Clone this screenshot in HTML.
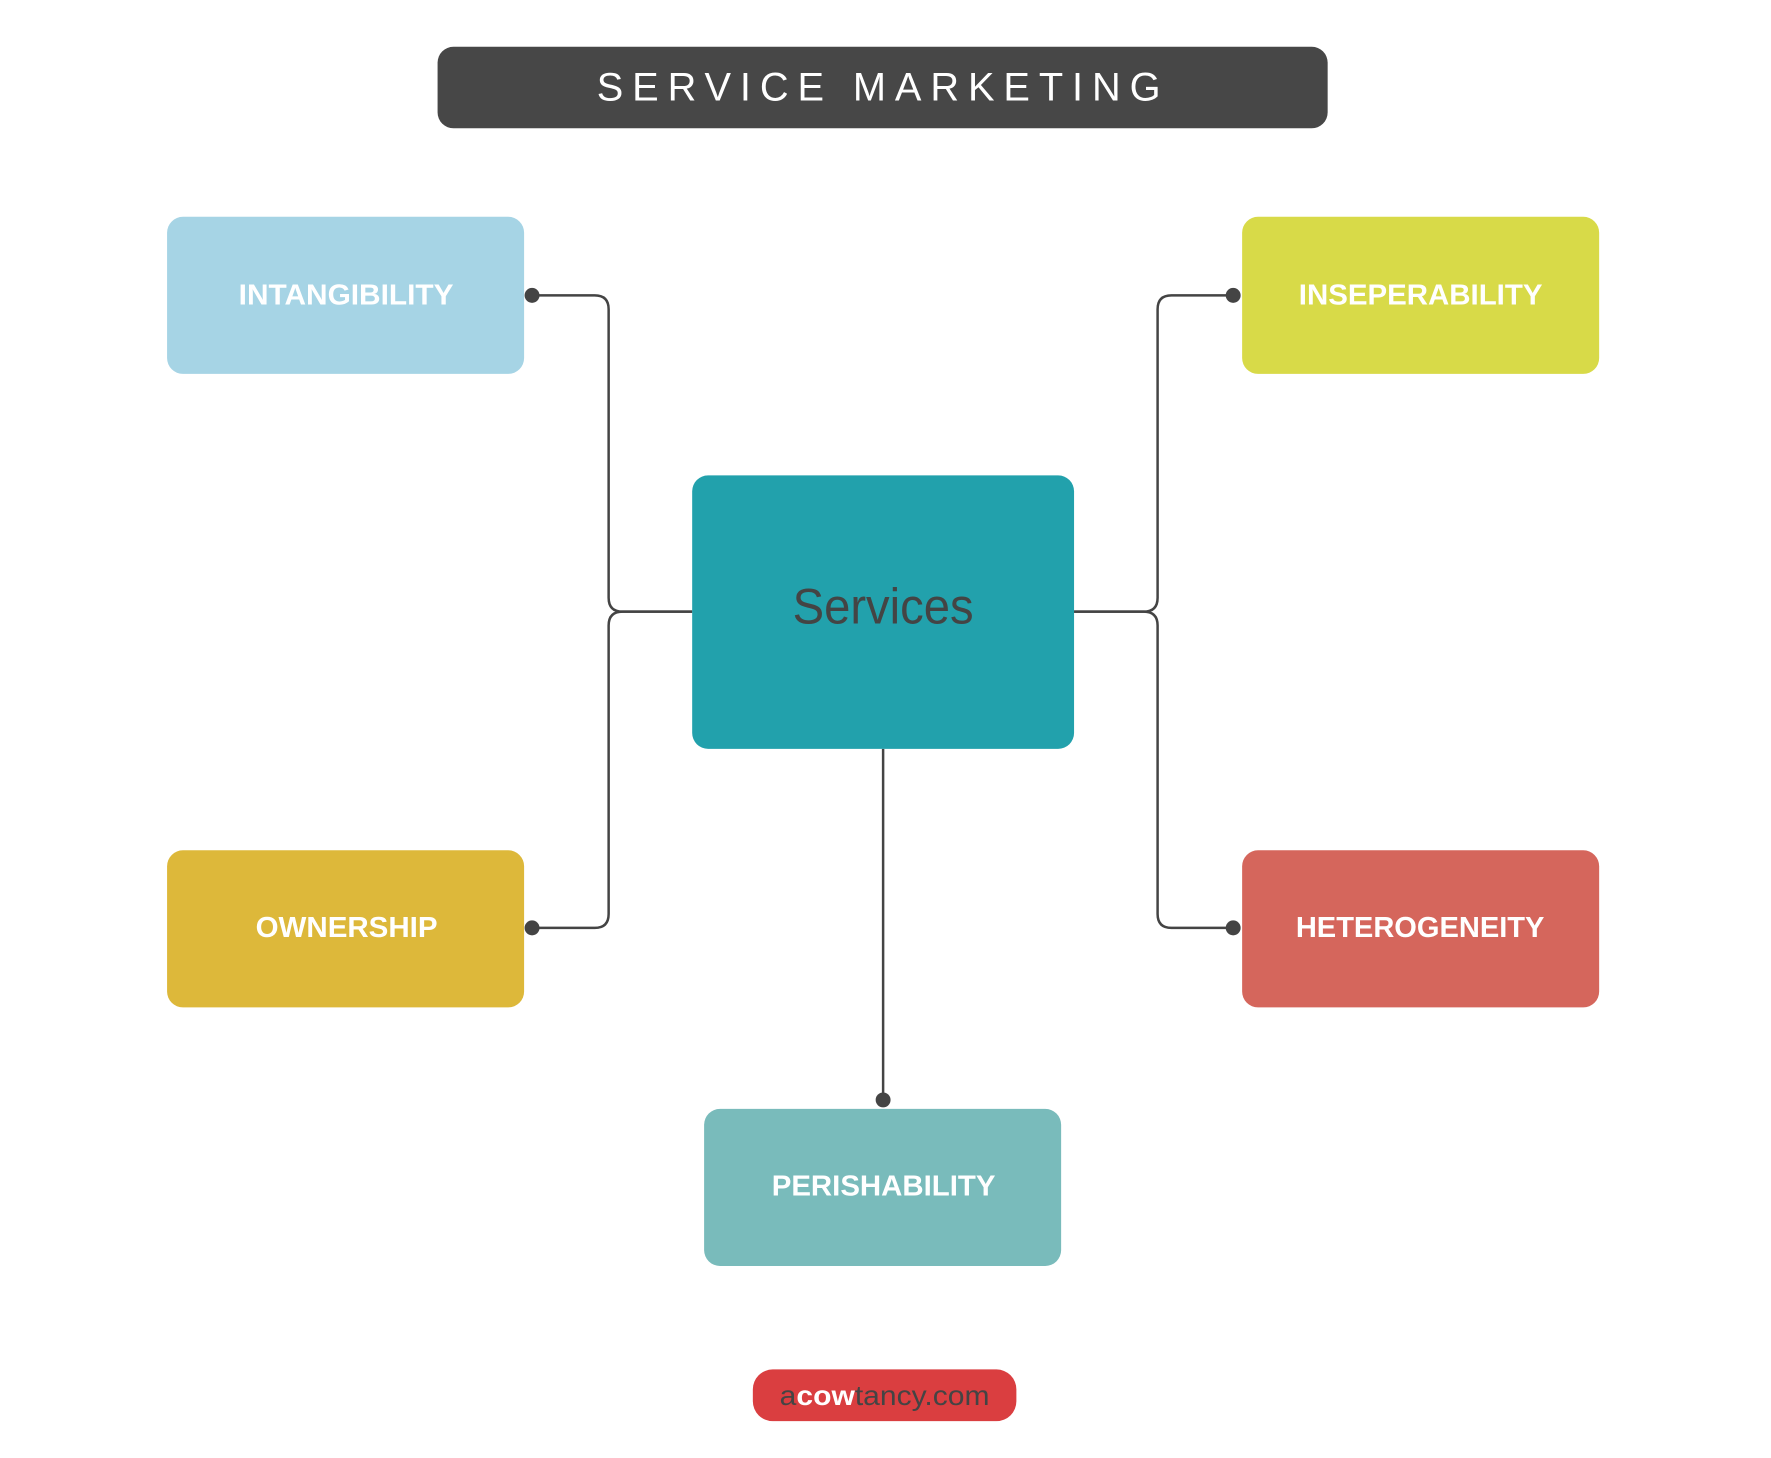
<!DOCTYPE html>
<html><head><meta charset="utf-8"><style>
html,body{margin:0;padding:0;background:#fff;}
svg{display:block;}
</style></head><body>
<svg width="1771" height="1458" viewBox="0 0 1771 1458" xmlns="http://www.w3.org/2000/svg">
<rect width="1771" height="1458" fill="#fff"/>
<g transform="scale(0.9945)">
<rect x="440" y="47" width="895" height="82" rx="16" fill="#474747"/>
<text x="600" y="101" font-family="Liberation Sans, sans-serif" font-size="40" fill="#fff" textLength="567" lengthAdjust="spacing">SERVICE MARKETING</text>

<g fill="none" stroke="#444" stroke-width="2.5">
<path d="M535 297 H598 Q612 297 612 311 V601 Q612 615 626 615 H696"/>
<path d="M696 615 H626 Q612 615 612 629 V919 Q612 933 598 933 H535"/>
<path d="M1240 297 H1178 Q1164 297 1164 311 V601 Q1164 615 1150 615 H1080"/>
<path d="M1080 615 H1150 Q1164 615 1164 629 V919 Q1164 933 1178 933 H1240"/>
<path d="M888 753 V1106"/>
</g>
<g fill="#444">
<circle cx="535" cy="297" r="7.5"/><circle cx="535" cy="933" r="7.5"/>
<circle cx="1240" cy="297" r="7.5"/><circle cx="1240" cy="933" r="7.5"/>
<circle cx="888" cy="1106" r="7.5"/>
</g>

<rect x="168" y="218" width="359" height="158" rx="16" fill="#a6d4e5"/>
<rect x="1249" y="218" width="359" height="158" rx="16" fill="#d8da48"/>
<rect x="168" y="855" width="359" height="158" rx="16" fill="#ddb83a"/>
<rect x="1249" y="855" width="359" height="158" rx="16" fill="#d5665c"/>
<rect x="696" y="478" width="384" height="275" rx="16" fill="#22a1ac"/>
<rect x="708" y="1115" width="359" height="158" rx="16" fill="#79bbbb"/>

<g font-family="Liberation Sans, sans-serif" font-size="29" fill="#fff" font-weight="bold">
<text x="240" y="306" textLength="216" lengthAdjust="spacingAndGlyphs">INTANGIBILITY</text>
<text x="1306" y="306" textLength="245" lengthAdjust="spacingAndGlyphs">INSEPERABILITY</text>
<text x="257" y="942" textLength="183" lengthAdjust="spacingAndGlyphs">OWNERSHIP</text>
<text x="1303" y="942" textLength="250" lengthAdjust="spacingAndGlyphs">HETEROGENEITY</text>
<text x="776" y="1202" textLength="225" lengthAdjust="spacingAndGlyphs">PERISHABILITY</text>
</g>
<text x="797" y="627" font-family="Liberation Sans, sans-serif" font-size="50" fill="#444" textLength="182" lengthAdjust="spacingAndGlyphs">Services</text>

<rect x="757" y="1377" width="265" height="52" rx="20" fill="#da3e40"/>
<text x="784" y="1413" font-family="Liberation Sans, sans-serif" font-size="28" fill="#444" textLength="211" lengthAdjust="spacingAndGlyphs">a<tspan fill="#fff" font-weight="bold">cow</tspan>tancy.com</text>
</g>
</svg>
</body></html>
